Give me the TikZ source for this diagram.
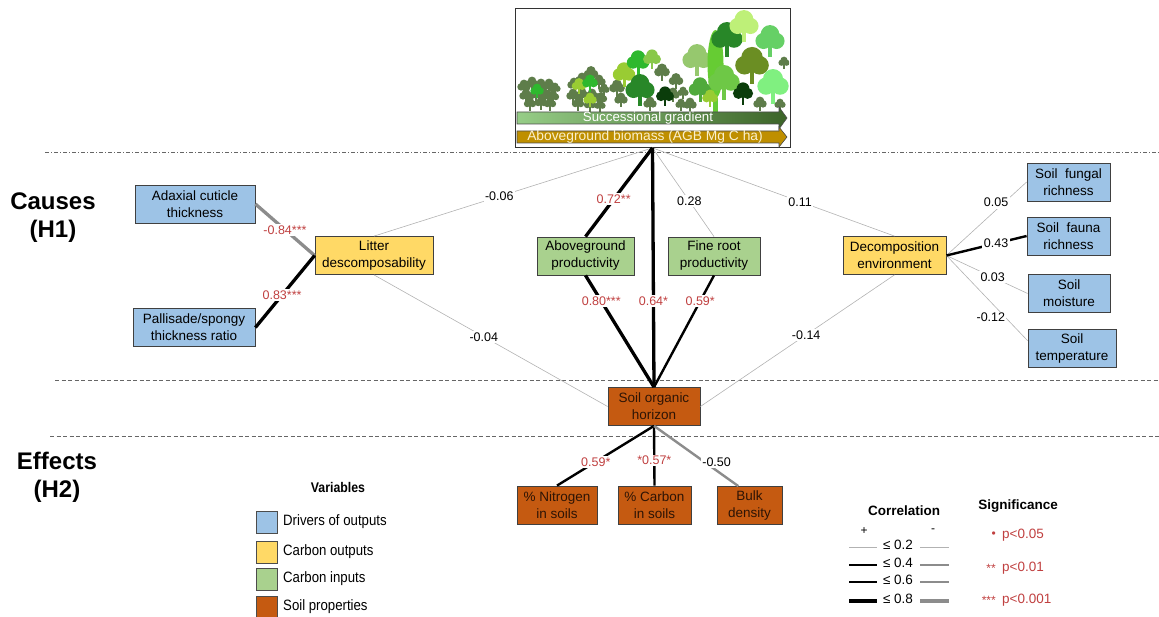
\documentclass[tikz,border=0pt]{standalone}
\usepackage{fontspec}
\setmainfont{Liberation Sans}
\newfontfamily\narrowfont[FakeStretch=0.88]{Liberation Sans}

\definecolor{driverblue}{RGB}{157,195,230}
\definecolor{outyellow}{RGB}{255,217,102}
\definecolor{ingreen}{RGB}{169,209,142}
\definecolor{soilorange}{RGB}{197,90,17}
\definecolor{soiltext}{RGB}{45,20,5}
\definecolor{sigred}{RGB}{192,64,64}
\definecolor{agbgold}{RGB}{191,143,0}
\definecolor{agbtext}{RGB}{250,240,205}
\definecolor{succlight}{RGB}{150,205,135}
\definecolor{succdark}{RGB}{60,100,40}
\definecolor{treeA}{RGB}{94,125,74}
\definecolor{treeC}{RGB}{46,184,46}
\definecolor{treeD}{RGB}{153,204,51}
\definecolor{treeE}{RGB}{136,200,74}
\definecolor{treeF}{RGB}{40,135,40}
\definecolor{treeG}{RGB}{11,61,11}
\definecolor{treeH}{RGB}{150,200,110}
\definecolor{treeI}{RGB}{190,240,120}
\definecolor{treeJ}{RGB}{102,208,102}
\definecolor{treeK}{RGB}{107,142,35}
\definecolor{treeL}{RGB}{80,170,60}
\definecolor{treeM}{RGB}{110,200,70}
\definecolor{treeN}{RGB}{128,240,128}
\definecolor{treeP}{RGB}{102,204,51}

% x, y of the crown, crown size, colour
\newcommand{\drawtree}[4]{%
  \fill[#4] ({#1-0.15*#3},#2) rectangle ({#1+0.15*#3},{#2+1.4*#3});
  \fill[#4] (#1,{#2-0.35*#3}) circle ({0.72*#3pt})
            ({#1-0.5*#3},{#2+0.15*#3}) circle ({0.62*#3pt})
            ({#1+0.5*#3},{#2+0.15*#3}) circle ({0.62*#3pt});
}

\begin{document}
\begin{tikzpicture}[x=1pt, y=-1pt,
    var/.style={draw=black!75, line width=0.8pt, minimum height=38pt, align=center,
      inner sep=1pt, font=\fontsize{13.5}{17}\selectfont},
    driver/.style={var, fill=driverblue},
    output/.style={var, fill=outyellow},
    input/.style={var, fill=ingreen},
    soil/.style={var, fill=soilorange, text=soiltext},
    heading/.style={align=center, font=\fontsize{24}{28}\selectfont\bfseries},
    coef/.style={fill=white, text=black, inner sep=1.5pt, font=\fontsize{12.5}{12.5}\selectfont},
    sig/.style={coef, text=sigred},
    legend/.style={anchor=west, inner sep=0pt, font=\narrowfont\fontsize{15}{15}\selectfont},
    keytitle/.style={inner sep=0pt, font=\fontsize{13.5}{13.5}\selectfont\bfseries},
    p1/.style={line width=0.6pt, black!30},
    p2/.style={line width=1.5pt, black},
    p3/.style={line width=2.4pt, black},
    p4/.style={line width=3.3pt, black},
    n1/.style={line width=0.6pt, black!30},
    n2/.style={line width=1.5pt, black!45},
    n3/.style={line width=2.4pt, black!45},
    n4/.style={line width=3.3pt, black!45},
    divider/.style={black!60, line width=0.7pt, dash pattern=on 4pt off 2.5pt}]

\useasboundingbox (0,0) rectangle (1159,617);

\draw[divider, dash pattern=on 4pt off 2pt on 1pt off 2pt] (45,152) -- (1159,152);
\draw[divider] (55,380) -- (1159,380);
\draw[divider] (50,436) -- (1159,436);

\node[heading] (causes) at (53,218) {Causes\\(H1)};
\node[heading] (effects) at (57,477) {Effects\\(H2)};

% forest panel
\node[draw=black!80, line width=0.8pt, minimum width=275pt, minimum height=139pt, inner sep=0pt]
  (forest) at (652.5,78) {};
\coordinate (apex) at (forest.south);
\begin{scope}
  \clip (516,9) rectangle (789,147);
  \foreach \x/\y/\r/\c in {
      524/86/6/treeA, 532/83/6/treeA, 541/85/6/treeA, 549/85/6/treeA, 555/88/5/treeA,
      526/95/6/treeA, 536/94/6/treeA, 545/95/6/treeA, 553/96/5.5/treeA,
      530/103/5.5/treeA, 541/102/5.5/treeA, 550/103/5.5/treeA, 537/90/6/treeC,
      574/84/6/treeA, 582/79/6/treeA, 591/73/6.5/treeA, 599/81/6/treeA, 604/89/5/treeA,
      573/95/6/treeA, 582/94/6/treeA, 592/95/6/treeA, 601/98/5.5/treeA,
      578/103/5.5/treeA, 590/104/5.5/treeA, 600/105/5/treeA,
      579/85/6.5/treeD, 590/82/7/treeC, 590/99/6/treeD,
      617/87/7/treeA, 621/99/6/treeA, 662/71/7/treeA, 676/80/6.5/treeA, 683/92/5/treeA,
      624/73/10/treeD, 638/61/10/treeC, 652/58/8/treeE,
      650/103/6/treeA, 673/94/6/treeA, 681/104/5/treeA,
      640/88/13/treeF, 665/95/8/treeG,
      697/58/13/treeH, 784/62/5/treeA}
    \drawtree{\x}{\y}{\r}{\c};
  \fill[treeP] (713,98) rectangle (718,112);
  \fill[treeP] (715.5,64) ellipse (8pt and 34pt);
  \foreach \x/\y/\r/\c in {
      727/37/14/treeF, 744/24/13/treeI, 770/39/13/treeJ, 752/63/15/treeK,
      690/104/6/treeA, 760/103/6/treeA, 780/104/5/treeA,
      700/88/10/treeL, 724/80/14/treeM, 710/97/7/treeD, 743/92/9/treeG, 773/84/14/treeN}
    \drawtree{\x}{\y}{\r}{\c};
\end{scope}
\shade[left color=succlight, right color=succdark, draw=black!70, line width=0.6pt]
  (517,112) -- (779,112) -- (779,107) -- (787,118) -- (779,129) -- (779,124) -- (517,124) -- cycle;
\node[text=white, font=\fontsize{13.3}{13.3}\selectfont, inner sep=0pt] (succession) at (648,118) {Successional gradient};
\fill[agbgold, draw=black!70, line width=0.6pt]
  (517,131) -- (779,131) -- (779,127) -- (787,137) -- (779,147) -- (779,143) -- (517,143) -- cycle;
\node[text=agbtext, font=\fontsize{13.8}{13.8}\selectfont, inner sep=0pt] (agb) at (645,137) {Aboveground biomass (AGB Mg C ha)};

% variables
\node[driver, minimum width=120pt] (adaxial) at (195,204) {Adaxial cuticle\\thickness};
\node[driver, minimum width=122pt] (pallisade) at (194,327.5) {Pallisade/spongy\\thickness ratio};
\node[output, minimum width=118pt] (litter) at (374,255.5) {Litter\\descomposability};
\node[input, minimum width=97pt] (agprod) at (585.5,256) {Aboveground\\productivity};
\node[input, minimum width=92pt] (frprod) at (714,256) {Fine root\\productivity};
\node[output, minimum width=103pt] (decomp) at (894.5,255.5) {Decomposition\\environment};
\node[driver, minimum width=83pt] (fungal) at (1068.5,182) {Soil\ \ fungal\\richness};
\node[driver, minimum width=83pt] (fauna) at (1068.5,236) {Soil\ \ fauna\\richness};
\node[driver, minimum width=82pt] (moisture) at (1069,293.5) {Soil\\moisture};
\node[driver, minimum width=88pt] (temperature) at (1072,348.5) {Soil\\temperature};
\node[soil, minimum width=92pt] (horizon) at (654,406.5) {Soil organic\\horizon};
\node[soil, minimum width=80pt] (nitrogen) at (557,505) {\% Nitrogen\\in soils};
\node[soil, minimum width=73pt] (carbon) at (654.5,505) {\% Carbon\\in soils};
\node[soil, minimum width=65pt] (bulk) at (749.5,505.5) {Bulk\\density};

% correlations
\draw[n1] (litter.north) -- node[coef, pos=0.45]{-0.06} (apex);
\draw[n1] (litter.south) -- node[coef, pos=0.47]{-0.04} (horizon.west);
\draw[p1] (frprod.north) -- node[coef, pos=0.4]{0.28} (apex);
\draw[p1] (decomp.north) -- node[coef, pos=0.39]{0.11} (apex);
\draw[n1] (decomp.south) -- node[coef, pos=0.455]{-0.14} (horizon.east);
\draw[p1] (decomp.east) -- node[coef, pos=0.72, xshift=-8pt]{0.05} (fungal.west);
\draw[p1] (decomp.east) -- node[coef, pos=0.57]{0.03} (moisture.west);
\draw[n1] (decomp.east) -- node[coef, pos=0.72, xshift=-14pt, inner sep=0.5pt]{-0.12} (temperature.170);
\draw[p3] (decomp.east) -- node[coef, pos=0.62]{0.43} (fauna.west);
\draw[n4] (adaxial.east) -- node[sig]{-0.84***} (litter.west);
\draw[p4] (pallisade.east) -- node[sig, pos=0.45]{0.83***} (litter.west);
\draw[p4] (agprod.north) -- node[sig, pos=0.42]{0.72**} (apex);
\draw[p4] (agprod.south) -- node[sig, pos=0.23]{0.80***} (horizon.north);
\draw[p4] (apex) -- node[sig, pos=0.64]{0.64*} (horizon.north);
\draw[p3] (frprod.south) -- node[sig, pos=0.23]{0.59*} (horizon.north);
\draw[p3] (horizon.south) -- node[sig, pos=0.6]{0.59*} (nitrogen.north);
\draw[p3] (horizon.south) -- node[sig, pos=0.58]{*0.57*} (carbon.north);
\draw[n3] (horizon.south) -- node[coef, pos=0.6, xshift=12pt]{-0.50} (bulk.120);

% legend: variables
\node[keytitle, font=\narrowfont\fontsize{14}{14}\selectfont\bfseries] (vartitle) at (338,487) {Variables};
\foreach \y/\c/\t [count=\i] in {522/driverblue/Drivers of outputs, 552/outyellow/Carbon outputs,
    579/ingreen/Carbon inputs, 607/soilorange/Soil properties} {
  \fill[\c, draw=black!70, line width=0.6pt] (256,\y-11) rectangle (277,\y+11);
  \node[legend] (key\i) at (283,\y) {\t};
}

% legend: correlation and significance
\node[keytitle] (corrtitle) at (904,511) {Correlation};
\node[keytitle] (sigtitle) at (1018,506) {Significance};
\node[font=\fontsize{12}{12}\selectfont] (plus) at (864,531) {+};
\node[font=\fontsize{12}{12}\selectfont] (minus) at (933,531) {-};
\foreach \y/\s/\w/\cp/\cn [count=\i] in {547/0.2/0.6/black!30/black!30, 565/0.4/1.5/black/black!45,
    582/0.6/2.4/black/black!45, 601/0.8/3.3/black/black!45} {
  \draw[line width=\w pt, draw=\cp] (849,\y) -- (877,\y);
  \draw[line width=\w pt, draw=\cn] (920,\y) -- (949,\y);
  \node[font=\fontsize{13.5}{13.5}\selectfont, inner sep=0pt] (lim\i) at (898,\y-2) {≤ \s};
}
\foreach \y/\m/\p [count=\i] in {535/•/0.05, 568/**/0.01, 600/***/0.001} {
  \node[text=sigred, font=\fontsize{12}{12}\selectfont, anchor=east, inner sep=0pt] (mark\i) at (996,\y) {\m};
  \node[text=sigred, font=\fontsize{13.5}{13.5}\selectfont, anchor=west, inner sep=0pt] (pval\i) at (1002,\y) {p<\p};
}
\end{tikzpicture}
\end{document}
